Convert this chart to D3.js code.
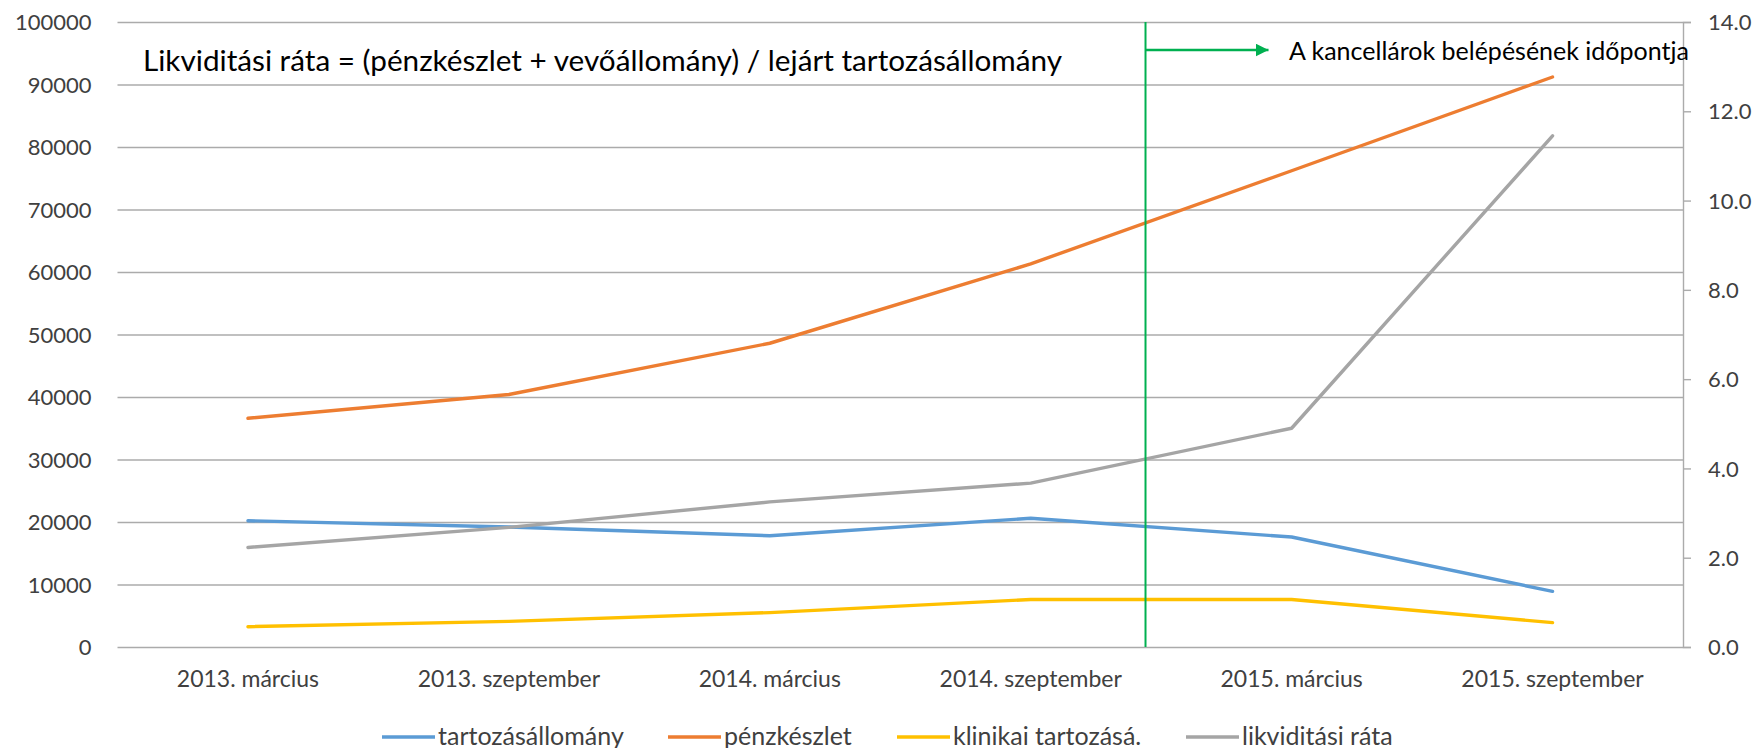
<!DOCTYPE html>
<html>
<head>
<meta charset="utf-8">
<script src="https://cdn.jsdelivr.net/npm/d3@7"></script>
<style>
  body { margin: 0; background: #fff; }
  svg, svg text { font-family: Lato, "Open Sans", sans-serif; }
  .grid line { stroke: #ababab; stroke-width: 1.4; }
  .grid path { display: none; }
  .tick text { fill: #404040; font-size: 22px; font-family: Lato, sans-serif; }
  .xaxis .tick text { font-size: 23px; }
</style>
</head>
<body>
<svg id="chart" width="1758" height="748"></svg>
<script>
// kategóriák és sorok
var categories = ["2013. március", "2013. szeptember", "2014. március", "2014. szeptember", "2015. március", "2015. szeptember"];
var tartozas   = [20200, 19200, 17800, 20600, 17600, 8900];
var penzkeszlet = [36600, 40400, 48600, 61300, 76200, 91200];
var klinikai   = [3250, 4100, 5500, 7600, 7600, 3900];
var likvid     = [2.23, 2.68, 3.25, 3.67, 4.90, 11.45];
var leftTicks  = [0, 10000, 20000, 30000, 40000, 50000, 60000, 70000, 80000, 90000, 100000];
var rightTicks = [0, 2, 4, 6, 8, 10, 12, 14];
var kancellarPos = 3.44;   // category index where the green marker stands

var series = [
	{name: "tartozásállomány",   vals: tartozas,    color: "#5b9bd5", axis: "L"},
	{name: "pénzkészlet",        vals: penzkeszlet, color: "#ed7d31", axis: "L"},
	{name: "klinikai tartozásá.", vals: klinikai,   color: "#ffc000", axis: "L"},
	{name: "likviditási ráta",   vals: likvid,      color: "#a5a5a5", axis: "R"}
];

var svg = d3.select("#chart");
var pLeft = 117.5, pRight = 1683, pTop = 22, pBottom = 647;

var x = d3.scaleBand().domain(categories).range([pLeft, pRight]).padding(0);
var xIdx = d3.scaleLinear().domain([0, categories.length - 1])
	.range([x(categories[0]) + x.bandwidth()/2, x(categories[categories.length-1]) + x.bandwidth()/2]);
var yL = d3.scaleLinear().domain([0, 100000]).range([pBottom, pTop]);
var yR = d3.scaleLinear().domain([0, 14]).range([pBottom, pTop]);

// gridlines + left labels
var gl = svg.append("g").attr("class", "grid")
	.attr("transform", "translate(" + pLeft + ",0)")
	.call(d3.axisLeft(yL).tickValues(leftTicks).tickSize(-(pRight - pLeft)).tickPadding(26).tickFormat(d3.format("d")));
gl.selectAll(".tick text").attr("dy", "0.35em");

// right axis
var ra = svg.append("g")
	.attr("transform", "translate(" + pRight + ",0)")
	.call(d3.axisRight(yR).tickValues(rightTicks).tickSize(8).tickPadding(17).tickFormat(d3.format(".1f")));
ra.select(".domain").attr("stroke", "#ababab").attr("stroke-width", 1.4);
ra.selectAll(".tick line").attr("stroke", "#ababab").attr("stroke-width", 1.4);
ra.selectAll(".tick text").attr("dy", "0.35em");

// category labels
svg.append("g").attr("class", "xaxis")
	.attr("transform", "translate(0," + pBottom + ")")
	.call(d3.axisBottom(x).tickSize(0).tickPadding(24))
	.call(function(g){ g.select(".domain").remove(); });

// lines
var line = function(s){
	var ys = s.axis == "R" ? yR : yL;
	return d3.line()
		.x(function(d, i){ return xIdx(i); })
		.y(function(d){ return ys(d); })(s.vals);
};
svg.append("g").selectAll("path").data(series).join("path")
	.attr("d", line)
	.attr("fill", "none")
	.attr("stroke", function(d){ return d.color; })
	.attr("stroke-width", 3.4)
	.attr("stroke-linejoin", "round")
	.attr("stroke-linecap", "round");

// green marker: kancellárok belépése
var gx = xIdx(kancellarPos);
svg.append("line").attr("x1", gx).attr("x2", gx).attr("y1", pTop).attr("y2", pBottom)
	.attr("stroke", "#00b050").attr("stroke-width", 2);
svg.append("defs").append("marker")
	.attr("id", "arr").attr("viewBox", "0 0 10 10").attr("refX", 10).attr("refY", 5)
	.attr("markerWidth", 5).attr("markerHeight", 5).attr("markerUnits", "strokeWidth").attr("orient", "auto")
	.append("path").attr("d", "M0,0L10,5L0,10Z").attr("fill", "#00b050");
svg.append("line").attr("x1", gx).attr("x2", gx + 123).attr("y1", 50).attr("y2", 50)
	.attr("stroke", "#00b050").attr("stroke-width", 2.6).attr("marker-end", "url(#arr)");
svg.append("text").attr("x", 1289).attr("y", 60).attr("font-size", 25).attr("fill", "#000")
	.text("A kancellárok belépésének időpontja");

svg.append("text").attr("x", 143).attr("y", 71).attr("font-size", 29.7).attr("fill", "#000")
	.text("Likviditási ráta = (pénzkészlet + vevőállomány) / lejárt tartozásállomány");

// legend
var legX = [382, 668, 897, 1186];
var leg = svg.append("g").selectAll("g").data(series).join("g")
	.attr("transform", function(d, i){ return "translate(" + legX[i] + ",737)"; });
leg.append("line").attr("x1", 0).attr("x2", 53).attr("stroke", function(d){ return d.color; }).attr("stroke-width", 3.4);
leg.append("text").attr("x", 56).attr("y", 8).attr("font-size", 25).attr("fill", "#404040")
	.text(function(d){ return d.name; });
</script>
</body>
</html>
